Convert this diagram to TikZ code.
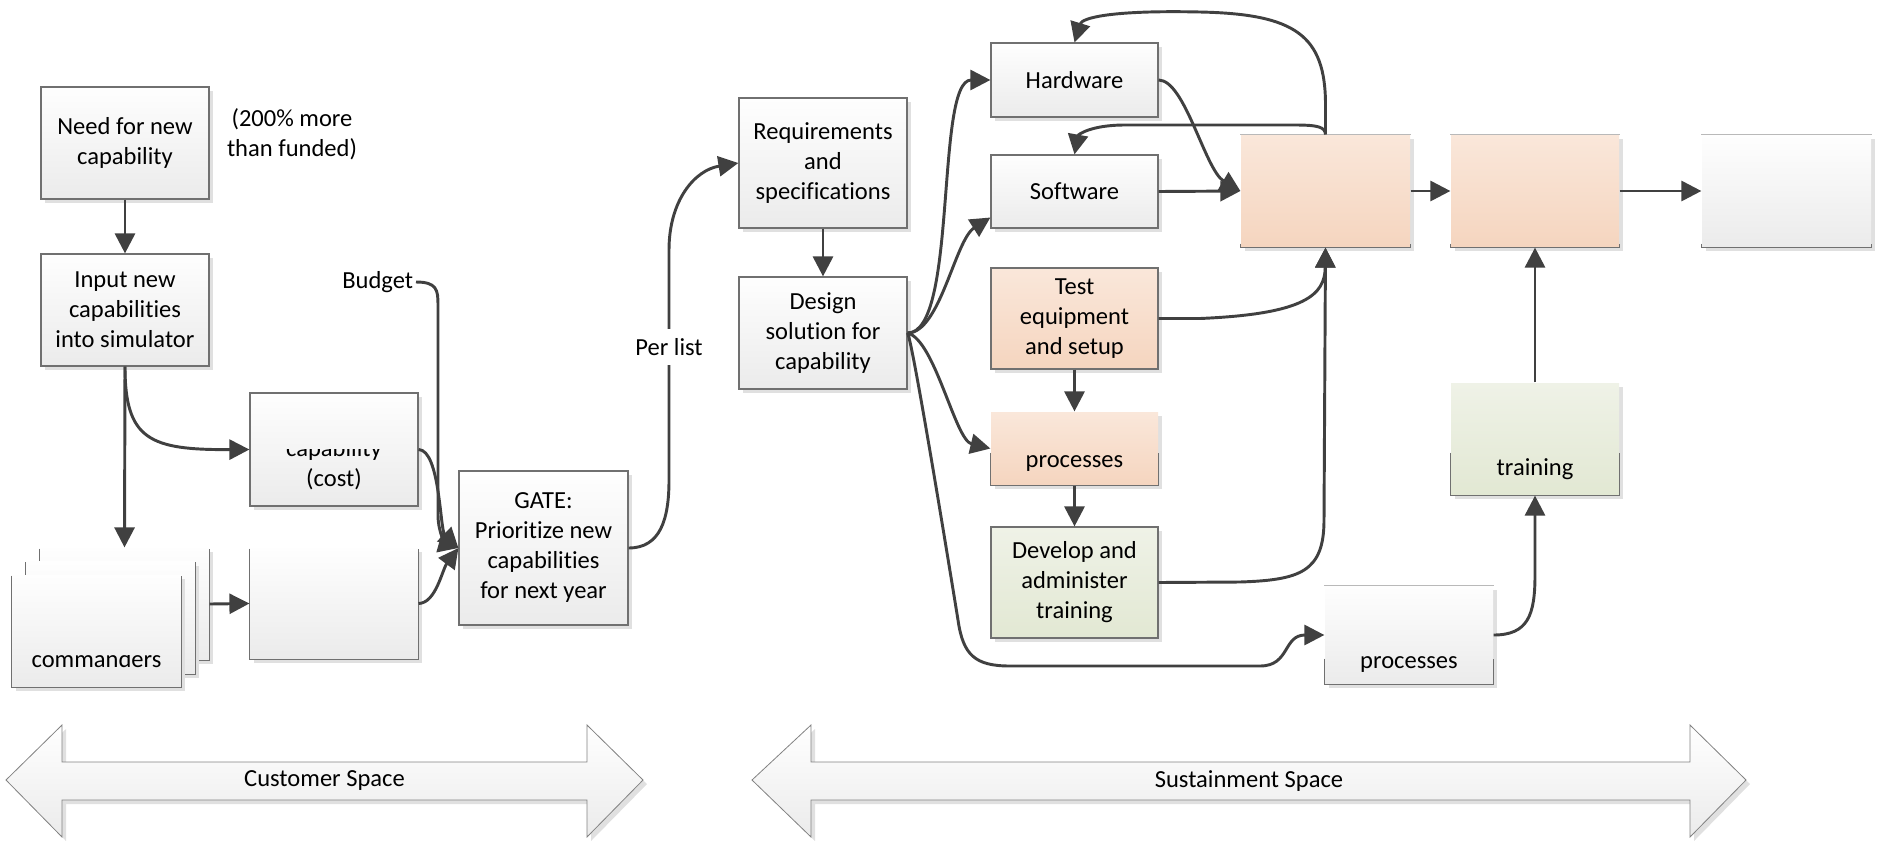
\documentclass[tikz,border=0pt]{standalone}
\usepackage{fontspec}
\setmainfont{Carlito}[RawFeature={-liga;-clig;-calt;-dlig}]
\usetikzlibrary{arrows.meta,shadows,calc}

\definecolor{linecol}{RGB}{64,64,64}
\definecolor{framecol}{RGB}{112,112,112}
\definecolor{faintcol}{RGB}{185,185,185}
\definecolor{shadowcol}{RGB}{224,224,224}
\definecolor{gtop}{RGB}{254,254,254}
\definecolor{gbot}{RGB}{235,235,235}
\definecolor{otop}{RGB}{250,231,218}
\definecolor{obot}{RGB}{245,213,191}
\definecolor{ltop}{RGB}{239,242,231}
\definecolor{lbot}{RGB}{226,232,211}
\definecolor{arrowedge}{RGB}{130,130,130}

% frame drawn only along the bottom and the lower part of both sides
\newcommand\lowerframe[2]{\draw[frame] ([yshift=#2]#1.south west) -- (#1.south west) -- (#1.south east) -- ([yshift=#2]#1.south east);}
% thin light line along the top edge
\newcommand\faintedge[1]{\draw[faintcol,line width=0.6pt] (#1.north west) -- (#1.north east);}

\begin{document}
\begin{tikzpicture}[x=0.75pt,y=-0.75pt,
  every node/.style={font=\fontsize{18.4pt}{22.5pt}\selectfont},
  box/.style={rectangle, draw=framecol, line width=0.9pt, align=center,
    inner sep=1pt, minimum width=126pt,
    general shadow={fill=shadowcol, shadow xshift=3.3pt, shadow yshift=-3.3pt}},
  bare/.style={box, draw=none},
  ht/.style={minimum height=#1*0.75pt},
  wd/.style={minimum width=#1*0.75pt},
  grayfill/.style={top color=gtop, bottom color=gbot},
  orangefill/.style={top color=otop, bottom color=obot},
  greenfill/.style={top color=ltop, bottom color=lbot},
  frame/.style={draw=framecol, line width=0.9pt},
  conn/.style={draw=linecol, line width=2.2pt, -{Triangle[length=15pt,width=15pt]}},
  plain/.style={inner sep=1pt, align=center},
  bigarrow/.style={top color=white, bottom color=gbot, draw=arrowedge, line width=0.6pt,
    general shadow={fill=shadowcol, shadow xshift=3pt, shadow yshift=-3pt}}
]
\useasboundingbox (0,0) rectangle (1877,840);

% ---------- customer side ----------
\node[box,grayfill,ht=112] (need) at (125,143) {Need for new\\capability};
\node[plain] (note) at (292,134) {(200\% more\\than funded)};
\node[box,grayfill,ht=112] (input) at (125,310) {Input new\\capabilities\\into simulator};

\node[box,grayfill,ht=113] (cost) at (334,449.5) {};
\begin{scope}
  \clip (250,449) rectangle (418,506);
  \node[plain,anchor=base] (costa) at (334,456) {capability};
\end{scope}
\node[plain,anchor=base] (costb) at (334,486) {(cost)};

% stacked boxes, back to front
\node[bare,grayfill,ht=112,wd=169] (cmdC) at (124.5,604) {};
\lowerframe{cmdC}{84pt}
\node[bare,grayfill,ht=112,wd=169] (cmdB) at (110.5,617.5) {};
\lowerframe{cmdB}{84pt}
\node[bare,grayfill,ht=112,wd=169] (cmdA) at (96.5,631) {};
\lowerframe{cmdA}{84pt}
\begin{scope}
  \clip (12,655) rectangle (181,687);
  \node[plain,anchor=base] (cmdtxt) at (96.5,667) {commanders};
\end{scope}

\node[bare,grayfill,ht=111] (blank) at (334,603.5) {};
\lowerframe{blank}{83.25pt}

\node[plain,anchor=east,inner sep=2pt] (budget) at (416,282) {Budget};
\node[box,grayfill,ht=154,wd=169] (gate) at (543.5,548) {GATE:\\Prioritize new\\capabilities\\for next year};

% ---------- sustainment side ----------
\node[box,grayfill,ht=130] (req) at (823,163) {Requirements\\and\\specifications};
\node[box,grayfill,ht=112] (design) at (823,333) {Design\\solution for\\capability};

\node[box,grayfill,ht=74,wd=167] (hw) at (1074.5,80) {Hardware};
\node[box,grayfill,ht=73,wd=167] (sw) at (1074.5,191.5) {Software};
\node[box,orangefill,ht=101,wd=167] (test) at (1074.5,318.5) {Test\\equipment\\and setup};

\node[bare,orangefill,ht=73,wd=167] (procA) at (1074.5,448.5) {};
\lowerframe{procA}{24.75pt}
\node[plain,anchor=base] (procAtxt) at (1074.5,467) {processes};

\node[box,greenfill,ht=111,wd=167] (dev) at (1074.5,582.5) {Develop and\\administer\\training};

\node[bare,orangefill,ht=112,wd=169] (stepA) at (1325.5,191) {};
\lowerframe{stepA}{3pt}\faintedge{stepA}
\node[bare,orangefill,ht=112,wd=168] (stepB) at (1535,191) {};
\lowerframe{stepB}{3pt}\faintedge{stepB}
\node[bare,grayfill,ht=112,wd=169] (stepC) at (1786.5,191) {};
\lowerframe{stepC}{3pt}\faintedge{stepC}

\node[bare,greenfill,ht=112,wd=168] (train) at (1535,439) {};
\lowerframe{train}{32.25pt}
\node[plain,anchor=base] (traintxt) at (1535,475) {training};

\node[bare,grayfill,ht=98,wd=168] (procB) at (1409,635) {};
\lowerframe{procB}{19.5pt}\faintedge{procB}
\node[plain,anchor=base] (procBtxt) at (1409,668) {processes};

% ---------- connectors ----------
\draw[conn] (need) -- (input);
\draw[conn] (input.south) -- (cmdC.north);
\draw[conn] (input.south) .. controls (125,440) and (150,450) .. (cost.west);
\draw[conn] (cmdC.east) -- (blank.west);
\draw[conn] (cost.east) .. controls (440,450) and (440,530) .. (gate.west);
\draw[conn] (blank.east) .. controls (436,603) and (442,570) .. (gate.west);
\draw[conn] (budget.east) .. controls (437,282) and (438,290) .. (438,305) -- (438,515)
  .. controls (438,535) and (448,545) .. (gate.west);

\draw[conn] (gate.east) .. controls (660,548) and (669,520) .. (669,480) -- (669,250)
  .. controls (669,200) and (695,170) .. (req.west);
\node[fill=white,inner xsep=2pt,inner ysep=7pt] (perlist) at (669,347) {Per list};

\draw[conn] (req) -- (design);
\draw[conn] (design.east) .. controls (958,333) and (935,80) .. (hw.west);
\draw[conn] (design.east) .. controls (940,333) and (955,240) .. ($(sw.west)+(0,26)$);
\draw[conn] (design.east) .. controls (935,340) and (955,440) .. (procA.west);
\draw[conn] (design.east) .. controls (913,345) and (945,540) .. (958,620)
  .. controls (963,655) and (975,666) .. (1010,666) -- (1260,666)
  .. controls (1290,666) and (1283,635) .. (procB.west);

\draw[conn] (hw.east) .. controls (1185,80) and (1205,170) .. (stepA.west);
\draw[conn] (sw.east) -- (stepA.west);
\draw[conn] (stepA) -- (stepB);
\draw[conn] (stepB) -- (stepC);
\draw[conn] (stepA.north) -- (1325.5,105) .. controls (1325.5,35) and (1295,14) .. (1200,12)
  .. controls (1110,10) and (1082,18) .. (hw.north);
\draw[conn] (stepA.north) .. controls (1325,127) and (1318,125) .. (1295,125) -- (1125,125)
  .. controls (1090,125) and (1078,135) .. (sw.north);
\draw[conn] (test.east) -- (1200,318.5) .. controls (1305,314) and (1325,295) .. (stepA.south);
\draw[conn] (dev.east) -- (1240,582) .. controls (1300,580) and (1324,572) .. (1324,520) -- (stepA.south);
\draw[conn] (test) -- (procA);
\draw[conn] (procA) -- (dev);
\draw[conn] (procB.east) .. controls (1528,635) and (1535,615) .. (1535,575) -- (train.south);
\draw[conn] (train) -- (stepB);

% ---------- space banners ----------
\path[bigarrow] (6,780) -- (62,725) -- (62,762) -- (587,762) -- (587,725) -- (643,780)
  -- (587,837) -- (587,800) -- (62,800) -- (62,837) -- cycle;
\node (custlbl) at (324.5,781) {Customer Space};
\path[bigarrow] (752,780) -- (811,725) -- (811,762) -- (1690,762) -- (1690,725) -- (1746,780)
  -- (1690,837) -- (1690,800) -- (811,800) -- (811,837) -- cycle;
\node (sustlbl) at (1249,781) {Sustainment Space};
\end{tikzpicture}
\end{document}
